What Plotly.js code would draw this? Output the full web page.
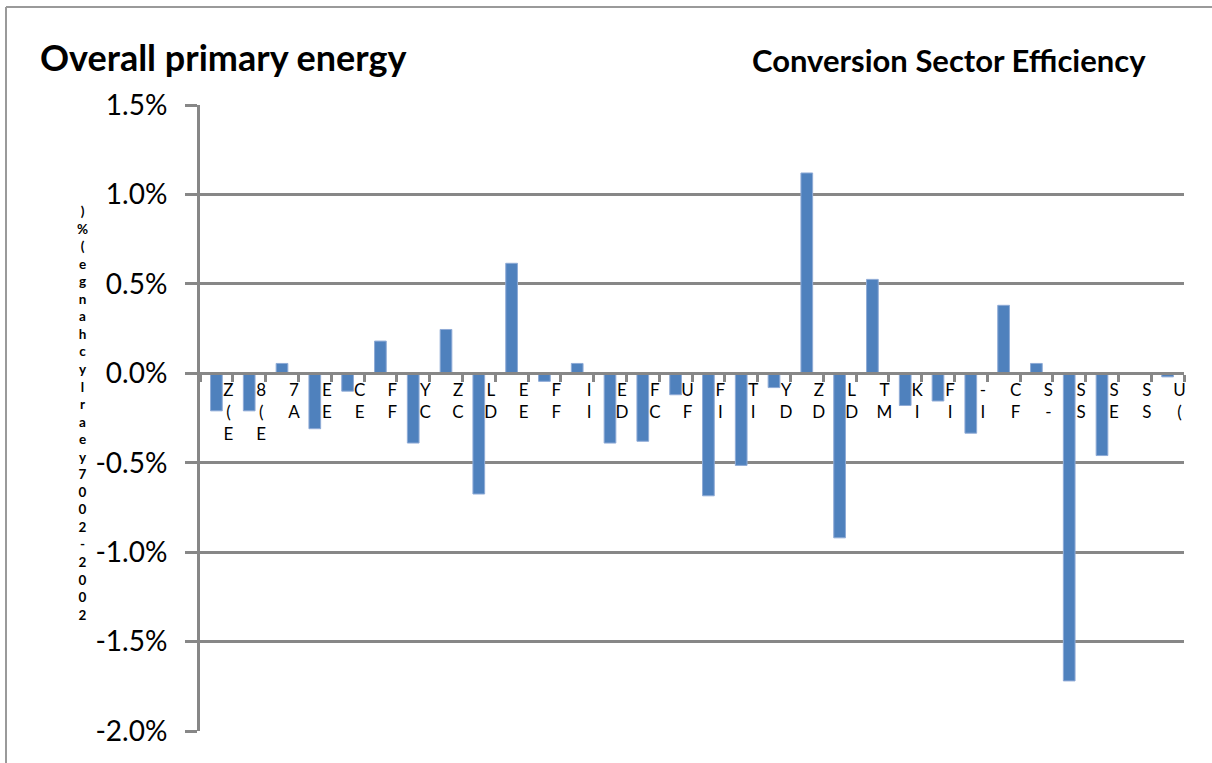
<!DOCTYPE html>
<html>
<head>
<meta charset="utf-8">
<script src="https://cdn.plot.ly/plotly-3.0.1.min.js"></script>
<style>
  html, body { margin: 0; padding: 0; background: #ffffff; }
  #chart { width: 1212px; height: 763px; }
</style>
</head>
<body>
<div id="chart"></div>
<script>
// Category labels (as visible in the reference: clipped, stacked glyphs)
const categories = [
  "Z(E", "8(E", "7A", "EE", "CE", "FF", "YC", "ZC", "LD", "EE",
  "FF", "II", "ED", "FC", "UF", "FI", "TI", "YD", "ZD", "LD",
  "TM", "KI", "FI", "-I", "CF", "S-", "SS", "SE", "SS", "U("
];

// 2002-2007 yearly change (%) of conversion sector efficiency
const values = [
  -0.21, -0.21, 0.055, -0.31, -0.10, 0.18, -0.39, 0.245, -0.675, 0.615,
  -0.045, 0.055, -0.39, -0.38, -0.12, -0.685, -0.515, -0.08, 1.12, -0.92,
  0.525, -0.18, -0.155, -0.335, 0.38, 0.055, -1.72, -0.46, 0.0, -0.02
];

const yTickVals = [-2.0, -1.5, -1.0, -0.5, 0.0, 0.5, 1.0, 1.5];
const yTickText = ["-2.0%", "-1.5%", "-1.0%", "-0.5%", "0.0%", "0.5%", "1.0%", "1.5%"];

const chartTitle = "Overall primary energy";
const chartSubtitle = "Conversion Sector Efficiency";
const yAxisTitle = "2002-2007yearlychange(%)";

// Plot-area geometry in pixels (used only for converting layout positions)
const W = 1212, H = 763;
const M = { l: 200, r: 28, t: 105, b: 32 };
const pw = W - M.l - M.r, ph = H - M.t - M.b;
const px = X => (X - M.l) / pw;
const py = Y => (H - M.b - Y) / ph;

const FONT = "Lato, 'Open Sans', 'DejaVu Sans', sans-serif";
const GRID = "#878787";

// Category positions (one slot per category; labels may repeat)
const slots = categories.map((c, i) => String(i));
const tickText = categories.map(c => Array.from(c).join("<br>"));

const trace = {
  type: "bar",
  x: slots,
  y: values,
  marker: { color: "#4F81BD", line: { color: "#8eaad6", width: 1 } },
  hoverinfo: "y"
};

// Stacked y-axis title, reading bottom-to-top as in the reference
const yTitleText = Array.from(yAxisTitle).reverse().join("<br>");

const layout = {
  width: W, height: H,
  margin: M,
  paper_bgcolor: "#ffffff",
  plot_bgcolor: "#ffffff",
  showlegend: false,
  bargap: 0.643,
  font: { family: FONT, color: "#000" },
  xaxis: {
    type: "category",
    anchor: "free",
    position: 2 / 3.5,
    showline: true, linecolor: GRID, linewidth: 3,
    showgrid: false, zeroline: false,
    ticks: "outside", tickson: "boundaries",
    ticklen: 7, tickwidth: 3, tickcolor: GRID,
    tickmode: "array", tickvals: slots, ticktext: tickText,
    tickangle: 0,
    ticklabelshift: 12,
    ticklabelstandoff: 0,
    tickfont: { family: FONT, size: 17, color: "#000" },
    fixedrange: true
  },
  yaxis: {
    range: [-2.0, 1.5],
    tickmode: "array", tickvals: yTickVals, ticktext: yTickText,
    showline: true, linecolor: GRID, linewidth: 3,
    showgrid: true, gridcolor: GRID, gridwidth: 3,
    zeroline: false,
    ticks: "outside", ticklen: 12, tickwidth: 3, tickcolor: GRID,
    ticklabelstandoff: 12,
    tickfont: { family: FONT, size: 28, color: "#000" },
    fixedrange: true
  },
  annotations: [
    {
      xref: "paper", yref: "paper", x: px(38), y: py(57),
      xanchor: "left", yanchor: "middle", showarrow: false,
      text: chartTitle,
      font: { family: FONT, size: 36, color: "#000", weight: "bold" }
    },
    {
      xref: "paper", yref: "paper", x: px(750), y: py(60),
      xanchor: "left", yanchor: "middle", showarrow: false,
      text: chartSubtitle,
      font: { family: FONT, size: 31, color: "#000", weight: "bold" }
    },
    {
      xref: "paper", yref: "paper", x: px(82), y: py(413),
      xanchor: "center", yanchor: "middle", showarrow: false,
      text: yTitleText,
      font: { family: FONT, size: 13.5, color: "#000", weight: "bold" }
    }
  ],
  shapes: [
    { type: "line", xref: "paper", yref: "paper",
      x0: px(6), x1: px(1230), y0: py(7), y1: py(7),
      line: { color: "#9a9a9a", width: 2 } },
    { type: "line", xref: "paper", yref: "paper",
      x0: px(6), x1: px(6), y0: py(7), y1: py(790),
      line: { color: "#9a9a9a", width: 2 } }
  ]
};

Plotly.newPlot("chart", [trace], layout, { displayModeBar: false, staticPlot: true });
</script>
</body>
</html>
